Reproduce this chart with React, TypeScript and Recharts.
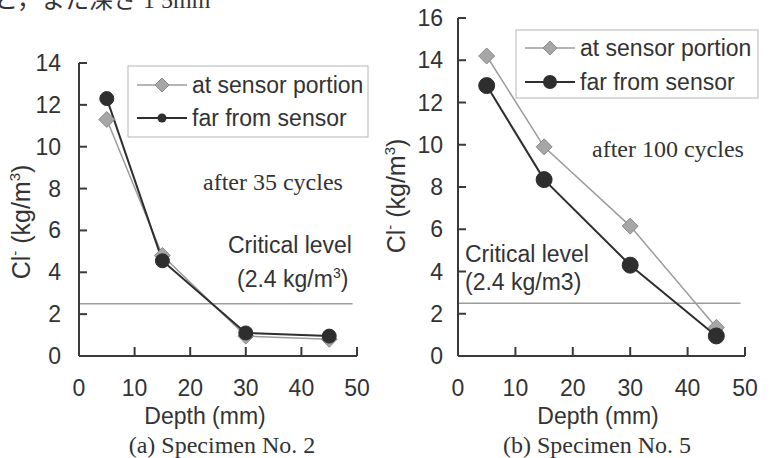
import React from 'react';
import { LineChart, Line, XAxis, YAxis, ReferenceLine } from 'recharts';

// depth (mm) of each sample
const depth = [5, 15, 30, 45];

// (a) Specimen No. 2, after 35 cycles
const atSensorA = [11.3, 4.8, 0.95, 0.8];
const farSensorA = [12.3, 4.55, 1.1, 0.95];

// (b) Specimen No. 5, after 100 cycles
const atSensorB = [14.2, 9.9, 6.15, 1.35];
const farSensorB = [12.8, 8.35, 4.3, 0.95];

const criticalLevel = 2.5;
const xTicks = [0, 10, 20, 30, 40, 50];
const yTicksA = [0, 2, 4, 6, 8, 10, 12, 14];
const yTicksB = [0, 2, 4, 6, 8, 10, 12, 14, 16];

const SANS = '"Liberation Sans", Arial, sans-serif';
const SERIF = '"Liberation Serif", "Times New Roman", serif';
const AXIS = '#3a3a3a';
const GRAY = '#9c9c9c';
const DARK = '#2e2e2e';
const FS = 23;

const Diamond = (props: any) => {
  const { cx, cy } = props;
  if (cx == null || cy == null) return null;
  const s = 8;
  return (
    <polygon
      points={`${cx},${cy - s} ${cx + s},${cy} ${cx},${cy + s} ${cx - s},${cy}`}
      fill="#a6a6a6"
      stroke="#8a8a8a"
      strokeWidth={1}
    />
  );
};

const Circle = (r: number) => (props: any) => {
  const { cx, cy } = props;
  if (cx == null || cy == null) return null;
  return <circle cx={cx} cy={cy} r={r} fill={DARK} stroke={DARK} />;
};

const XTick = (props: any) => {
  const { x, y, payload } = props;
  return (
    <g>
      <line x1={x} x2={x} y1={y} y2={y - 9} stroke={AXIS} strokeWidth={2} />
      <text x={x} y={y + 40} textAnchor="middle" fontSize={FS} fontFamily={SANS} fill="#333">
        {payload.value}
      </text>
    </g>
  );
};

const YTick = (gap: number) => (props: any) => {
  const { x, y, payload } = props;
  return (
    <g>
      <line x1={x} x2={x + 8} y1={y} y2={y} stroke={AXIS} strokeWidth={2} />
      <text x={x - gap} y={y + 8} textAnchor="end" fontSize={FS} fontFamily={SANS} fill="#333">
        {payload.value}
      </text>
    </g>
  );
};

interface PanelProps {
  at: number[];
  far: number[];
  yMax: number;
  yTicks: number[];
  left: number;
  width: number;
  margin: { top: number; right: number; bottom: number; left: number };
  gap: number;
  dotR: number;
}

function Panel({ at, far, yMax, yTicks, left, width, margin, gap, dotR }: PanelProps) {
  const data = depth.map((d, i) => ({ depth: d, at: at[i], far: far[i] }));
  return (
    <div style={{ position: 'absolute', left, top: 0 }}>
      <LineChart width={width} height={458} data={data} margin={margin}>
        <XAxis
          type="number"
          dataKey="depth"
          domain={[0, 50]}
          ticks={xTicks}
          height={1}
          tickSize={0}
          tickMargin={0}
          tickLine={false}
          tick={XTick}
          axisLine={{ stroke: AXIS, strokeWidth: 2 }}
        />
        <YAxis
          type="number"
          domain={[0, yMax]}
          ticks={yTicks}
          width={1}
          tickSize={0}
          tickMargin={0}
          tickLine={false}
          tick={YTick(gap)}
          axisLine={{ stroke: AXIS, strokeWidth: 2 }}
        />
        <ReferenceLine
          segment={[
            { x: 0, y: criticalLevel },
            { x: 49.2, y: criticalLevel },
          ]}
          stroke={GRAY}
          strokeWidth={1.5}
        />
        <Line
          dataKey="at"
          stroke={GRAY}
          strokeWidth={1.5}
          dot={<Diamond />}
          isAnimationActive={false}
        />
        <Line
          dataKey="far"
          stroke={DARK}
          strokeWidth={2}
          dot={Circle(dotR)}
          isAnimationActive={false}
        />
      </LineChart>
    </div>
  );
}

function LegendBox({ x, y, w, h, rows, circleR }: any) {
  return (
    <g>
      <rect x={x} y={y} width={w} height={h} fill="#fff" stroke="#b5b5b5" strokeWidth={1} />
      {rows.map((cy: number, i: number) => (
        <g key={i}>
          <line x1={x + 9} x2={x + 59} y1={cy} y2={cy} stroke={i === 0 ? GRAY : DARK} strokeWidth={i === 0 ? 1.5 : 2} />
          {i === 0 ? (
            <polygon
              points={`${x + 34},${cy - 7} ${x + 41},${cy} ${x + 34},${cy + 7} ${x + 27},${cy}`}
              fill="#a6a6a6"
              stroke="#8a8a8a"
            />
          ) : (
            <circle cx={x + 34} cy={cy} r={circleR} fill={DARK} />
          )}
          <text x={x + 64} y={cy + 8} fontSize={FS} fontFamily={SANS} fill="#333">
            {i === 0 ? 'at sensor portion' : 'far from sensor'}
          </text>
        </g>
      ))}
    </g>
  );
}

function YLabel({ x, y }: { x: number; y: number }) {
  return (
    <text transform={`translate(${x},${y}) rotate(-90)`} textAnchor="middle" fontSize={25} fontFamily={SANS} fill="#333">
      Cl
      <tspan dy={-10} fontSize={15}>-</tspan>
      <tspan dy={10}> (kg/m</tspan>
      <tspan dy={-10} fontSize={15}>3</tspan>
      <tspan dy={10}>)</tspan>
    </text>
  );
}

export default function App() {
  return (
    <div style={{ position: 'relative', width: 769, height: 458, background: '#fff', overflow: 'hidden' }}>
      <style>{'body{margin:0}'}</style>
      <Panel
        at={atSensorA}
        far={farSensorA}
        yMax={14}
        yTicks={yTicksA}
        left={0}
        width={384}
        margin={{ top: 63, right: 27, bottom: 101, left: 78 }}
        gap={18}
        dotR={7}
      />
      <Panel
        at={atSensorB}
        far={farSensorB}
        yMax={16}
        yTicks={yTicksB}
        left={384}
        width={385}
        margin={{ top: 18, right: 24, bottom: 101, left: 73 }}
        gap={15}
        dotR={8}
      />
      <svg width={769} height={458} style={{ position: 'absolute', left: 0, top: 0, pointerEvents: 'none' }}>
        <text x={-6} y={8} fontSize={24} fontFamily={`${SERIF}, "Noto Sans CJK JP"`} fill="#333">
          と，また深さ 1 5mm
        </text>

        <LegendBox x={128} y={66} w={240} h={71} rows={[85, 118]} circleR={4.5} />
        <LegendBox x={516} y={30} w={242} h={68} rows={[48, 82]} circleR={7} />

        <YLabel x={30} y={222} />
        <YLabel x={405} y={196} />

        <text x={203} y={190} fontSize={24} fontFamily={SERIF} fill="#333">after 35 cycles</text>
        <text x={228} y={253} fontSize={FS} fontFamily={SANS} fill="#333">Critical level</text>
        <text x={237} y={287} fontSize={FS} fontFamily={SANS} fill="#333">
          (2.4 kg/m<tspan dy={-9} fontSize={14}>3</tspan><tspan dy={9}>)</tspan>
        </text>

        <text x={592} y={157} fontSize={24} fontFamily={SERIF} fill="#333">after 100 cycles</text>
        <text x={465} y={262} fontSize={FS} fontFamily={SANS} fill="#333">Critical level</text>
        <text x={465} y={290} fontSize={FS} fontFamily={SANS} fill="#333">(2.4 kg/m3)</text>

        <text x={205} y={424} textAnchor="middle" fontSize={FS} fontFamily={SANS} fill="#333">Depth (mm)</text>
        <text x={598} y={424} textAnchor="middle" fontSize={FS} fontFamily={SANS} fill="#333">Depth (mm)</text>

        <text x={222} y={453} textAnchor="middle" fontSize={24} fontFamily={SERIF} fill="#333">(a) Specimen No. 2</text>
        <text x={597} y={453} textAnchor="middle" fontSize={24} fontFamily={SERIF} fill="#333">(b) Specimen No. 5</text>
      </svg>
    </div>
  );
}
